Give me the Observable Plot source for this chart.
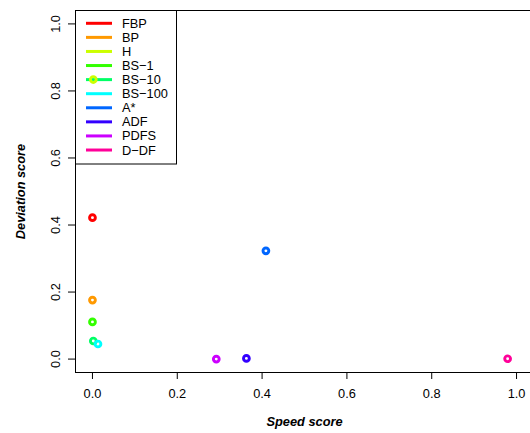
<!DOCTYPE html>
<html><head><meta charset="utf-8">
<script src="https://cdn.jsdelivr.net/npm/d3@7"></script>
<script src="https://cdn.jsdelivr.net/npm/@observablehq/plot@0.6"></script>
<style>body{margin:0;background:#fff} svg{font-family:"Liberation Sans",Arial,sans-serif}</style>
</head><body><div id="chart"></div>
<script>
const methods = ["FBP","BP","H","BS\u22121","BS\u221210","BS\u2212100","A*","ADF","PDFS","D\u2212DF"];
const speed = [0, 0, 0.002, 0, 0.002, 0.013, 0.409, 0.363, 0.292, 0.979];
const deviation = [0.422, 0.176, 0.834, 0.111, 0.054, 0.045, 0.323, 0.002, 0.0, 0.001];
const colors = ["#FF0000","#FF9900","#CCFF00","#33FF00","#00FF66","#00FFFF","#0066FF","#3300FF","#CC00FF","#FF0099"];
const ticks = [0, 0.2, 0.4, 0.6, 0.8, 1.0];
const tickLabels = ["0.0","0.2","0.4","0.6","0.8","1.0"];
const xTitle = "Speed score";
const yTitle = "Deviation score";

const data = methods.map((m, i) => ({method: m, speed: speed[i], deviation: deviation[i]}));
const font = "'Liberation Sans', Arial, sans-serif";
const fs = 12.8;

const plot = Plot.plot({
  width: 530, height: 433,
  marginLeft: 75, marginRight: 0, marginTop: 10, marginBottom: 61,
  x: {domain: [-0.04, 1.04], range: [75, 533]},
  y: {domain: [-0.04, 1.04], range: [372, 10]},
  color: {domain: methods, range: colors},
  style: {fontFamily: font, fontSize: fs + "px", background: "white", color: "black"},
  marks: [
    Plot.ruleY([-0.04, 1.04], {x1: -0.04, x2: 1.04, stroke: "black", strokeWidth: 1}),
    Plot.ruleX([-0.04], {y1: -0.04, y2: 1.04, stroke: "black", strokeWidth: 1}),
    Plot.axisX(ticks, {tickSize: 7, tickPadding: 9, tickFormat: (d, i) => tickLabels[i], label: null, fontSize: fs, stroke: "black"}),
    Plot.axisY(ticks, {tickSize: 7, tickFormat: () => "", label: null, stroke: "black"}),
    Plot.text(ticks, {x: -0.04, y: d => d, text: (d, i) => tickLabels[i], rotate: -90, dx: -20, fontSize: fs, textAnchor: "middle", lineAnchor: "middle", fill: "black"}),
    Plot.text([xTitle], {x: 0.5, y: -0.04, dy: 49, text: d => d, fontSize: fs, fontWeight: "bold", fontStyle: "italic", fill: "black"}),
    Plot.text([yTitle], {x: -0.04, y: 0.5, dx: -55, text: d => d, rotate: -90, fontSize: fs, fontWeight: "bold", fontStyle: "italic", fill: "black"}),
    Plot.dot(data, {x: "speed", y: "deviation", stroke: "method", r: 2.9, strokeWidth: 2.9, fill: "none"})
  ]
});

// legend (drawn beneath the dots)
const dotG = plot.querySelector('g[aria-label="dot"]');
const leg = d3.create("svg:g").attr("class", "legend").attr("text-anchor", "start");
leg.append("rect").attr("x", 75.5).attr("y", 10.5).attr("width", 101).attr("height", 153.5)
  .attr("fill", "white").attr("stroke", "black").attr("stroke-width", 1);
methods.forEach((m, i) => {
  const y = 23.3 + i * 14.08;
  leg.append("line").attr("x1", 86).attr("x2", 112).attr("y1", y).attr("y2", y)
    .attr("stroke", colors[i]).attr("stroke-width", 3);
  leg.append("text").attr("x", 122).attr("y", y).attr("dy", "0.35em")
    .attr("text-anchor", "start")
    .attr("font-size", fs).attr("font-family", font).attr("fill", "black").text(m);
});
plot.insertBefore(leg.node(), dotG);

document.getElementById("chart").appendChild(plot);
</script>
</body></html>
